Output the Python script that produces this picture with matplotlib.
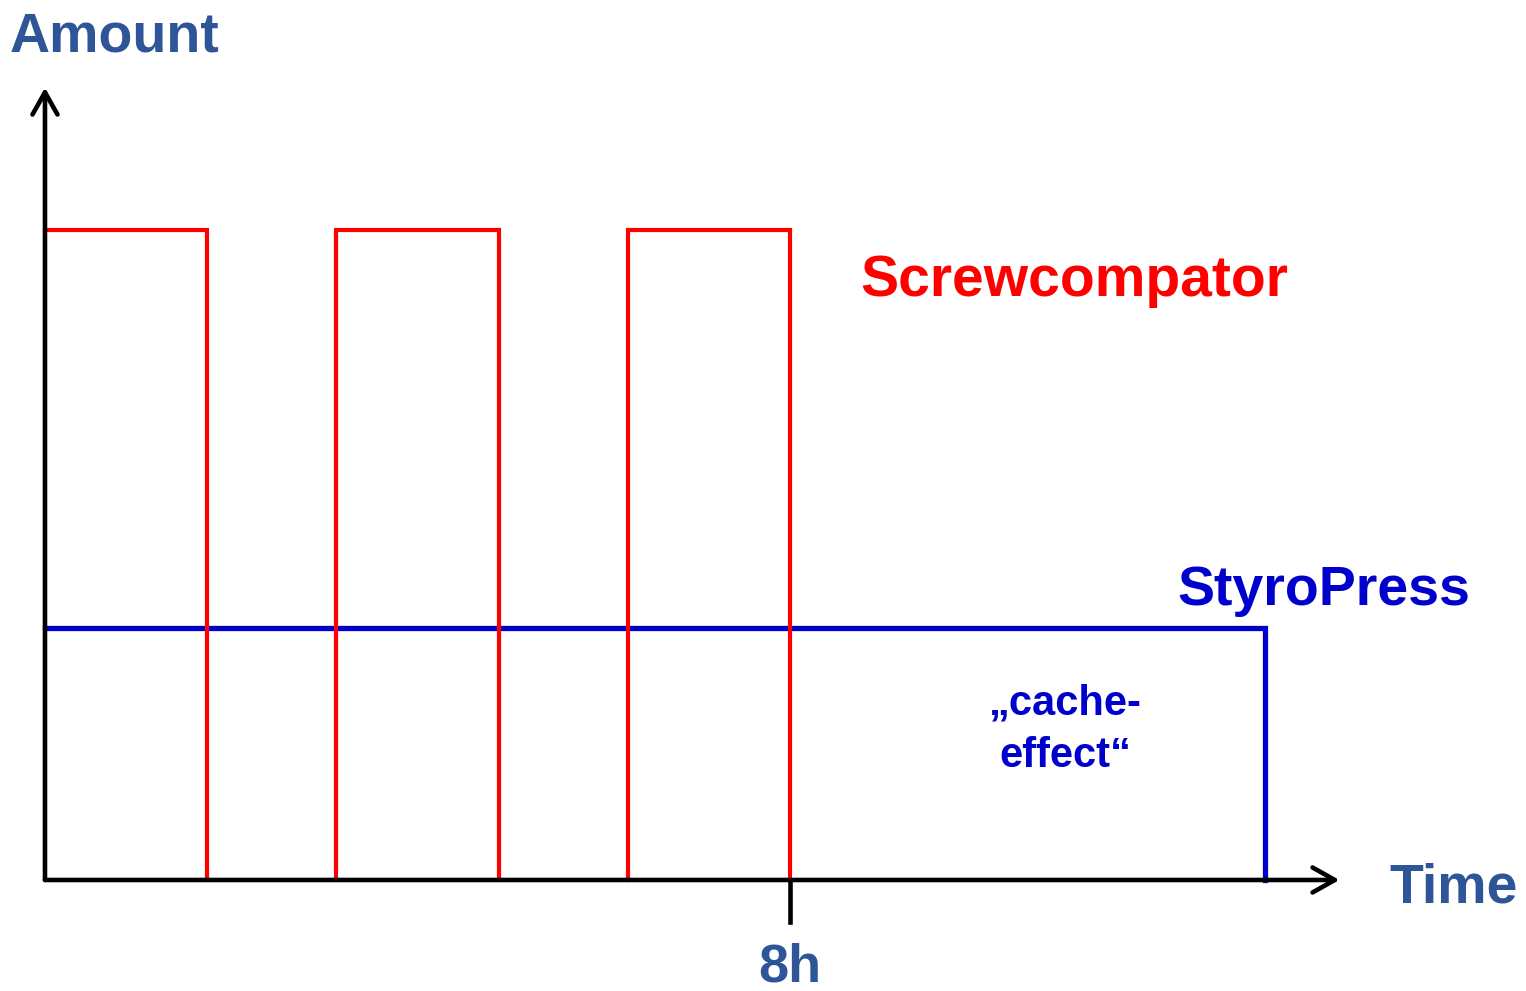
import matplotlib
matplotlib.use("Agg")
import matplotlib.pyplot as plt
import numpy as np

# time in hours, amount in % of screwcompator peak
screw_edges = [0.0, 1.74, 3.12, 4.87, 6.26, 8.0]   # on/off switching times
screw_level = 100
styro_level = 38.8
styro_end = 13.1
shift_end = 8.0
tick_labels = ["8h"]

plt.rcParams['font.family'] = ['Liberation Sans', 'DejaVu Sans']
plt.rcParams['font.weight'] = 'bold'

fig = plt.figure(figsize=(15.26, 9.91), dpi=100)
ax = fig.add_axes([0, 0, 1, 1])
ax.set_xlim(-0.483, 15.903)
ax.set_ylim(-17.08, 135.38)
ax.axis('off')

#red pulses, drawn one by one so nothing runs along the time axis
for i in range(0, len(screw_edges), 2):
    on, off = screw_edges[i], screw_edges[i + 1]
    if on == 0:
        # left side of first pulse sits under the amount axis
        px, py = [on, off, off], [screw_level, screw_level, 0]
    else:
        px, py = [on, on, off, off], [0, screw_level, screw_level, 0]
    ax.plot(px, py, color='#ff0000', lw=3.0, solid_joinstyle='miter', zorder=3)

#blue constant line
ax.plot([0, styro_end, styro_end], [styro_level, styro_level, 0],
        color='#0000cc', lw=3.8, solid_joinstyle='miter', zorder=2)

#axes with arrows
arrow = dict(arrowstyle='->,head_length=1.6,head_width=0.9', lw=3.3,
             color='black', shrinkA=0, shrinkB=0)
ax.annotate('', xy=(13.9, 0), xytext=(0, 0), arrowprops=arrow, zorder=4)
ax.annotate('', xy=(0, 121.9), xytext=(0, 0), arrowprops=arrow, zorder=4)

#8h tick
ax.plot([shift_end, shift_end], [0, -6.5], color='black', lw=3.3, zorder=4)

lab = '#2e5597'
ax.text(shift_end, -15.6, tick_labels[0], color=lab, fontsize=39,
        ha='center', va='baseline')
ax.text(-0.376, 127.4, 'Amount', color=lab, fontsize=40, va='baseline')
ax.text(14.44, -3.4, 'Time', color=lab, fontsize=40, va='baseline')
ax.text(8.75, 89.8, 'Screwcompator', color='#ff0000', fontsize=41,
        va='baseline')
ax.text(12.16, 42.3, 'StyroPress', color='#0000cc', fontsize=40,
        va='baseline')
ax.text(10.96, (880 - 715) / 6.5, '\u201ecache-', color='#0000cc',
        fontsize=30, ha='center', va='baseline')
ax.text(10.96, (880 - 767) / 6.5, 'effect\u201c', color='#0000cc',
        fontsize=30, ha='center', va='baseline')

fig.savefig('out.png', dpi=100)
